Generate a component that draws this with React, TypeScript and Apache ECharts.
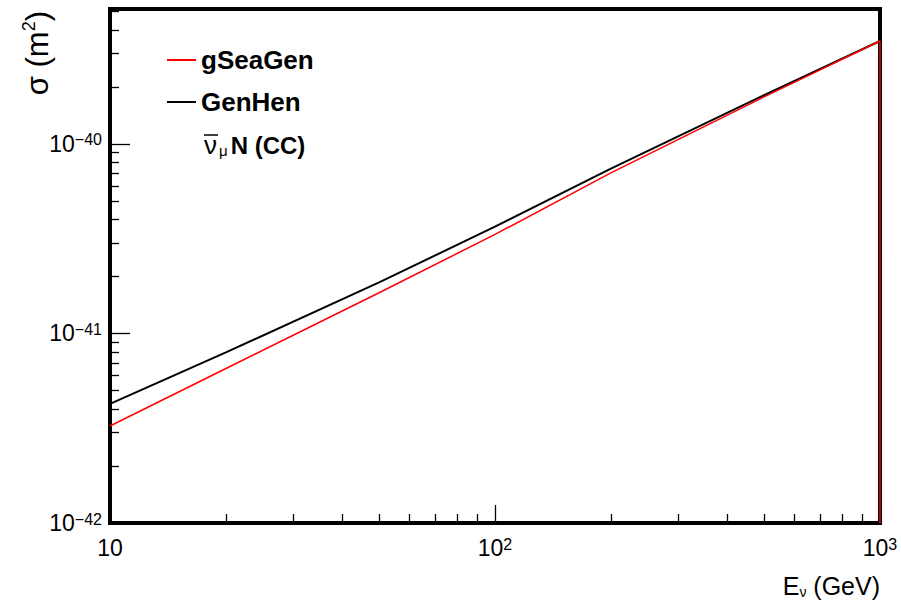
import React, { useEffect, useRef } from "react";
import * as echarts from "echarts";

const FONT = "'Liberation Sans', Arial, Helvetica, sans-serif";

// Neutrino energy (GeV)
const energies = [10, 20, 50, 100, 200, 500, 1000];
// Cross sections (m^2)
const gSeaGen = [3.25e-42, 6.53e-42, 1.64e-41, 3.33e-41, 7.03e-41, 1.77e-40, 3.49e-40];
const genHen = [4.25e-42, 7.94e-42, 1.86e-41, 3.66e-41, 7.4e-41, 1.81e-40, 3.49e-40];
// The red histogram drops to the axis floor at the last edge
const gSeaGenEdge = [1000, 1e-42];

// ECharts rounds at 20 decimals, so the y axis runs in units of 1e-42 m^2
const Y_UNIT_EXP = -42;
const Y_UNIT = 1e-42;

const xMin = 10;
const xMax = 1000;
const yMin = 1e-42;
const yMax = 5.15e-40;

const xMajorTicks = [10, 100, 1000];
const xMinorTicks = [20, 30, 40, 50, 60, 70, 80, 90, 200, 300, 400, 500, 600, 700, 800, 900];
const yMajorTicks = [1e-42, 1e-41, 1e-40];
const yMinorTicks = [
  2e-42, 3e-42, 4e-42, 5e-42, 6e-42, 7e-42, 8e-42, 9e-42,
  2e-41, 3e-41, 4e-41, 5e-41, 6e-41, 7e-41, 8e-41, 9e-41,
  2e-40, 3e-40, 4e-40, 5e-40,
];

const toU = (v: number) => Number((v / Y_UNIT).toPrecision(6));

function powLabel(v: number, expOffset: number) {
  const raw = Math.log10(v);
  if (Math.abs(raw - Math.round(raw)) > 1e-6) return "";
  const e = Math.round(raw) + expOffset;
  if (e === 1) return "{b|10}";
  const s = e < 0 ? "\u2212" + String(-e) : String(e);
  return "{b|10}{s|" + s + "}";
}

export default function App() {
  const ref = useRef<HTMLDivElement>(null);
  useEffect(() => {
    if (!ref.current) return;
    const chart = echarts.init(ref.current, undefined, { renderer: "svg" });
    const labelRich = {
      b: { fontSize: 23, lineHeight: 24, fontFamily: FONT, color: "#000" },
      s: { fontSize: 16, lineHeight: 10, verticalAlign: "top", fontFamily: FONT, color: "#000" },
    };
    const tickStyle = { color: "#000", width: 1.3 };
    chart.setOption({
      animation: false,
      textStyle: { fontFamily: FONT },
      grid: {
        left: 110,
        right: 21,
        top: 9,
        bottom: 79,
        show: true,
        borderColor: "#000",
        borderWidth: 4,
        backgroundColor: "transparent",
      },
      legend: {
        left: 167,
        top: 47,
        padding: 0,
        orient: "vertical",
        icon: "rect",
        itemWidth: 29,
        itemHeight: 2,
        itemGap: 16,
        data: ["gSeaGen", "GenHen"],
        textStyle: { fontSize: 26, fontWeight: "bold", color: "#000", lineHeight: 26, fontFamily: FONT },
      },
      xAxis: [
        {
          type: "log",
          min: xMin,
          max: xMax,
          position: "bottom",
          axisLine: { show: false },
          splitLine: { show: false },
          axisTick: { show: true, inside: true, length: 18, lineStyle: tickStyle, customValues: xMajorTicks },
          axisLabel: {
            show: true,
            margin: 13,
            customValues: xMajorTicks,
            formatter: (v: number) => powLabel(v, 0),
            rich: labelRich,
          },
        },
        {
          type: "log",
          min: xMin,
          max: xMax,
          position: "bottom",
          axisLine: { show: false },
          splitLine: { show: false },
          axisLabel: { show: false },
          axisTick: { show: true, inside: true, length: 9, lineStyle: tickStyle, customValues: xMinorTicks },
        },
      ],
      yAxis: [
        {
          type: "log",
          min: toU(yMin),
          max: toU(yMax),
          position: "left",
          axisLine: { show: false },
          splitLine: { show: false },
          axisTick: { show: true, inside: true, length: 20, lineStyle: tickStyle, customValues: yMajorTicks.map(toU) },
          axisLabel: {
            show: true,
            margin: 8,
            customValues: yMajorTicks.map(toU),
            formatter: (v: number) => powLabel(v, Y_UNIT_EXP),
            rich: labelRich,
          },
        },
        {
          type: "log",
          min: toU(yMin),
          max: toU(yMax),
          position: "left",
          axisLine: { show: false },
          splitLine: { show: false },
          axisLabel: { show: false },
          axisTick: { show: true, inside: true, length: 9, lineStyle: tickStyle, customValues: yMinorTicks.map(toU) },
        },
      ],
      series: [
        {
          name: "GenHen",
          type: "line",
          showSymbol: false,
          symbol: "none",
          color: "#000000",
          lineStyle: { color: "#000000", width: 2 },
          data: energies.map((e, i) => [e, toU(genHen[i])]),
        },
        {
          name: "gSeaGen",
          type: "line",
          showSymbol: false,
          symbol: "none",
          color: "#ff0000",
          lineStyle: { color: "#ff0000", width: 1.5 },
          data: [...energies.map((e, i) => [e, toU(gSeaGen[i])]), [gSeaGenEdge[0], toU(gSeaGenEdge[1])]],
        },
      ],
      graphic: [
        {
          type: "text",
          x: 37,
          y: 11,
          rotation: Math.PI / 2,
          style: {
            text: "{b|σ (m}{s|2}{b|)}",
            align: "right",
            verticalAlign: "middle",
            rich: {
              b: { fontSize: 31, lineHeight: 34, fontFamily: FONT, fill: "#000" },
              s: { fontSize: 18, lineHeight: 14, verticalAlign: "top", fontFamily: FONT, fill: "#000" },
            },
          },
        },
        {
          type: "text",
          x: 880,
          y: 586,
          style: {
            text: "{b|E}{sub|ν}{b| (GeV)}",
            align: "right",
            verticalAlign: "middle",
            rich: {
              b: { fontSize: 25, lineHeight: 26, fontFamily: FONT, fill: "#000" },
              sub: { fontSize: 14, lineHeight: 14, verticalAlign: "bottom", fontFamily: FONT, fill: "#000" },
            },
          },
        },
        {
          type: "text",
          x: 204,
          y: 145,
          style: {
            text: "{nu|ν}{mu|μ}{b|N (CC)}",
            align: "left",
            verticalAlign: "middle",
            rich: {
              nu: { fontSize: 26, lineHeight: 26, fontFamily: FONT, fill: "#000" },
              mu: { fontSize: 15, lineHeight: 14, verticalAlign: "bottom", fontFamily: FONT, fill: "#000", padding: [0, 3, 0, 2] },
              b: { fontSize: 24, lineHeight: 26, fontWeight: "bold", fontFamily: FONT, fill: "#000" },
            },
          },
        },
        {
          type: "line",
          shape: { x1: 204, y1: 135, x2: 218, y2: 135 },
          style: { stroke: "#000", lineWidth: 1.5 },
        },
      ],
    });
    return () => chart.dispose();
  }, []);
  return (
    <div
      ref={ref}
      style={{ position: "fixed", left: 0, top: 0, width: 901, height: 602, background: "#fff" }}
    />
  );
}
